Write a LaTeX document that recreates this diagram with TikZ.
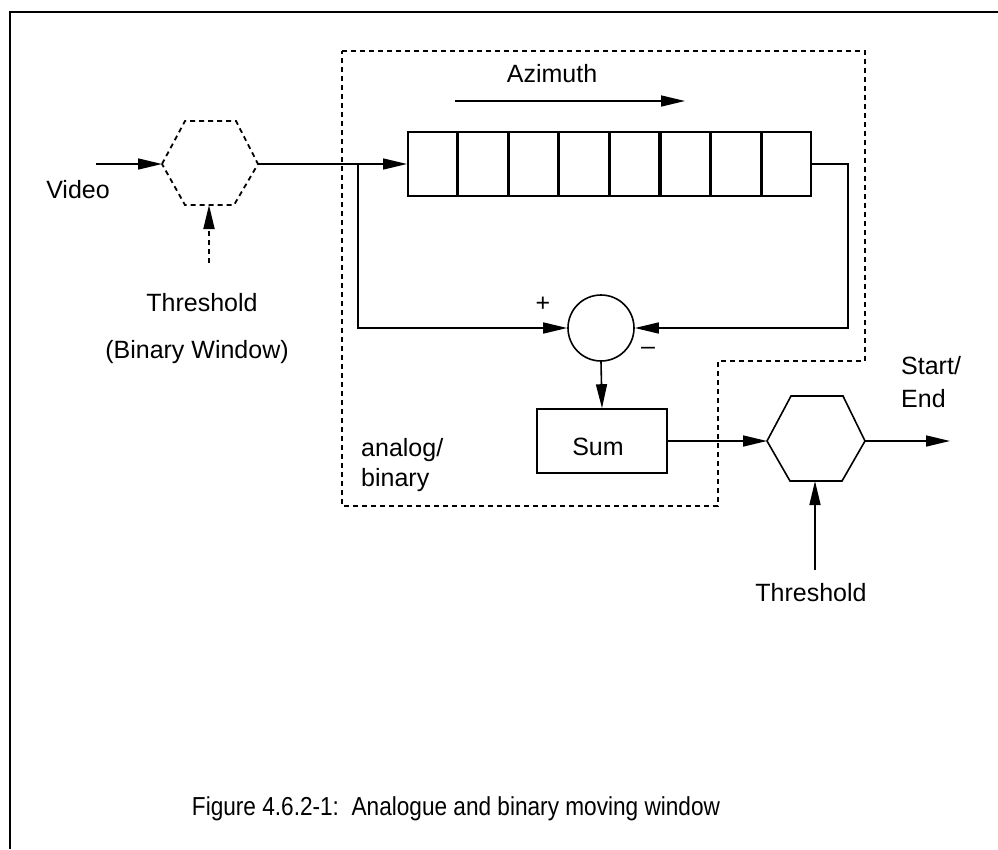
\documentclass[tikz,border=0pt]{standalone}
\usepackage{fontspec}
\setmainfont{Liberation Sans}
\newfontfamily\capfont[FakeStretch=0.87]{Liberation Sans}
\usetikzlibrary{arrows.meta,shapes.geometric}
\begin{document}
\begin{tikzpicture}[x=1pt,y=-1pt,
  every node/.style={font=\fontsize{25}{30}\selectfont},
  ln/.style={line width=1.6pt},
  tip/.style={-{Triangle[length=24pt,width=11pt]}},
  arr/.style={ln,tip},
  dsh/.style={line width=1.8pt,dash pattern=on 5pt off 4pt},
  cell/.style={draw,ln,rectangle,minimum width=49pt,minimum height=64pt,inner sep=0pt,anchor=west},
  lbl/.style={inner sep=0pt}]
\useasboundingbox (0,0) rectangle (998,849);
% frame
\draw[line width=2.2pt] (10,849) -- (10,12) -- (998,12);
% dashed group box
\draw[dsh] (342,51) -- (865,51) -- (865,361) -- (718,361) -- (718,506) -- (342,506) -- cycle;
% left hexagon (binary window)
\coordinate (hlin) at (162,164);
\coordinate (hlout) at (258,164);
\coordinate (hlbot) at (209,205);
\draw[dsh] (hlin) -- (185,121) -- (236,121) -- (hlout) -- (234,205) -- (185,205) -- cycle;
\coordinate (vidin) at (96,164);
\draw[arr] (vidin) -- (hlin);
\coordinate (thlstart) at (209,263);
\draw[dsh,tip] (thlstart) -- (hlbot);
\node[lbl] (video) at (78,190) {Video};
\node[lbl] (thl) at (202,303) {Threshold};
\node[lbl] (binw) at (197,352) {(Binary Window)};
% shift register
\node[cell] (c1) at (407,164) {};
\node[cell] (c2) at (c1.east) {};
\node[cell] (c3) at (c2.east) {};
\node[cell] (c4) at (c3.east) {};
\node[cell] (c5) at (c4.east) {};
\node[cell] (c6) at (c5.east) {};
\node[cell] (c7) at (c6.east) {};
\node[cell] (c8) at (c7.east) {};
\draw[arr] (hlout) -- (c1.west);
% azimuth
\node[lbl] (az) at (552,74) {Azimuth};
\coordinate (aza) at (455,101);
\coordinate (azb) at (685,101);
\draw[arr] (aza) -- (azb);
% subtractor
\node[draw,ln,circle,minimum size=66pt,inner sep=0pt] (sub) at (601,328) {};
\coordinate (fbj) at (358,164);
\draw[arr] (fbj) |- (sub.west);
\coordinate (rgo) at (848,164);
\draw[arr] (c8.east) -- (rgo) |- (sub.east);
\node[lbl] (plus) at (543,304) {+};
\node[lbl] (minus) at (648,351) {–};
% sum
\node[draw,ln,rectangle,minimum width=130pt,minimum height=64pt] (sum) at (602,441) {};
\node[lbl] (sumt) at (598,447) {Sum};
\draw[arr] (sub.south) -- (sum.north);
% right hexagon
\coordinate (hrin) at (767,441);
\coordinate (hrout) at (865,441);
\coordinate (hrbot) at (815,481);
\draw[ln] (hrin) -- (791,396) -- (843,396) -- (hrout) -- (842,481) -- (790,481) -- cycle;
\draw[arr] (sum.east) -- (hrin);
\coordinate (outend) at (950,441);
\draw[arr] (hrout) -- (outend);
\coordinate (thrstart) at (815,570);
\draw[arr] (thrstart) -- (hrbot);
\node[lbl] (thr) at (811,593) {Threshold};
\node[lbl,anchor=west] (start) at (901,366) {Start/};
\node[lbl,anchor=west] (endt) at (901,399) {End};
\node[lbl,anchor=west] (ana) at (361,450) {analog/};
\node[lbl,anchor=west] (bin) at (361,480) {binary};
% caption
\node[lbl,font=\capfont\fontsize{26}{31}\selectfont] (cap) at (456,809) {Figure 4.6.2-1:\ \ Analogue and binary moving window};
\end{tikzpicture}
\end{document}
